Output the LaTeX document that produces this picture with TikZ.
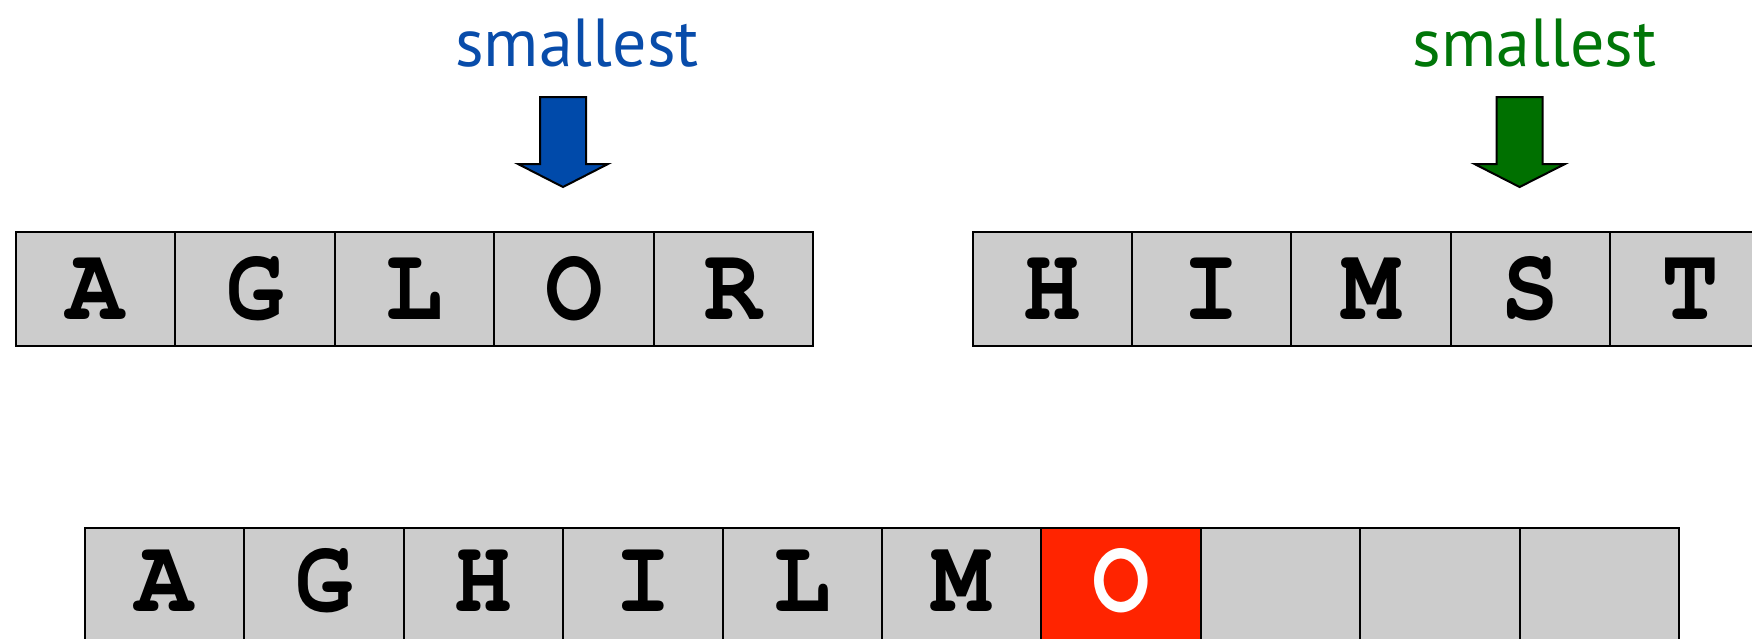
\documentclass[tikz,border=0pt]{standalone}
\usepackage{fontspec}
\usepackage{graphicx}
\setmonofont{TeX Gyre Cursor}
\newfontfamily\labelfont{PT Sans}
\newcommand{\celltext}[1]{\scalebox{1}[1.1]{#1}}
\definecolor{cellgray}{RGB}{204,204,204}
\definecolor{hotred}{RGB}{255,36,0}
\definecolor{bluetxt}{RGB}{8,76,170}
\definecolor{bluefill}{RGB}{0,74,170}
\definecolor{greentxt}{RGB}{0,118,8}
\definecolor{greenfill}{RGB}{0,112,0}
\tikzset{
  cell/.style={draw=black, line width=1pt, fill=cellgray, rectangle,
    minimum width=79.7pt, minimum height=57pt, inner sep=0pt},
  hotcell/.style={cell, fill=hotred},
  letter/.style={font=\ttfamily\bfseries\fontsize{48}{48}\selectfont, inner sep=0pt, text=black},
  hotletter/.style={letter, text=white},
  tag/.style={font=\labelfont\fontsize{34}{34}\selectfont, inner sep=0pt, anchor=base},
  pointer/.style={draw=black, line width=1pt, line join=miter}
}
\begin{document}
\begin{tikzpicture}[x=0.5pt,y=-0.5pt]
\useasboundingbox (0,0) rectangle (1752,638);
\clip (0,0) rectangle (1752,638);
% top-left array
\foreach \c/\t [count=\i] in {95.7/A,255.1/G,414.5/L,573.9/O,733.3/R}{
  \node[cell] (l\i) at (\c,289) {};
  \node[letter] (lt\i) at (l\i.center) {\celltext{\t}};
}
% top-right array
\foreach \c/\t [count=\i] in {1052.2/H,1211.6/I,1371.0/M,1530.4/S,1689.8/T}{
  \node[cell] (r\i) at (\c,289) {};
  \node[letter] (rt\i) at (r\i.center) {\celltext{\t}};
}
% bottom array
\foreach \c/\t [count=\i] in {164.7/A,324.1/G,483.5/H,642.9/I,802.3/L,961.7/M}{
  \node[cell] (b\i) at (\c,585) {};
  \node[letter] (bt\i) at ([yshift=2.2pt]b\i.center) {\celltext{\t}};
}
\node[hotcell] (b7) at (1121.1,585) {};
\node[hotletter] (bt7) at ([yshift=2.2pt]b7.center) {\celltext{O}};
\foreach \c [count=\i from 8] in {1280.5,1439.9,1599.3}{
  \node[cell] (b\i) at (\c,585) {};
}
% labels
\node[tag, text=bluetxt] (sb) at (577,66) {smallest};
\node[tag, text=greentxt] (sg) at (1534.5,66) {smallest};
% pointer arrows
\draw[pointer, fill=bluefill] (540,97) -- (586,97) -- (586,164) -- (608,164)
  -- (563,187) -- (518,164) -- (540,164) -- cycle;
\draw[pointer, fill=greenfill] (1496.5,97) -- (1542.5,97) -- (1542.5,164) -- (1565,164)
  -- (1519.6,187) -- (1474.5,164) -- (1496.5,164) -- cycle;
\end{tikzpicture}
\end{document}
